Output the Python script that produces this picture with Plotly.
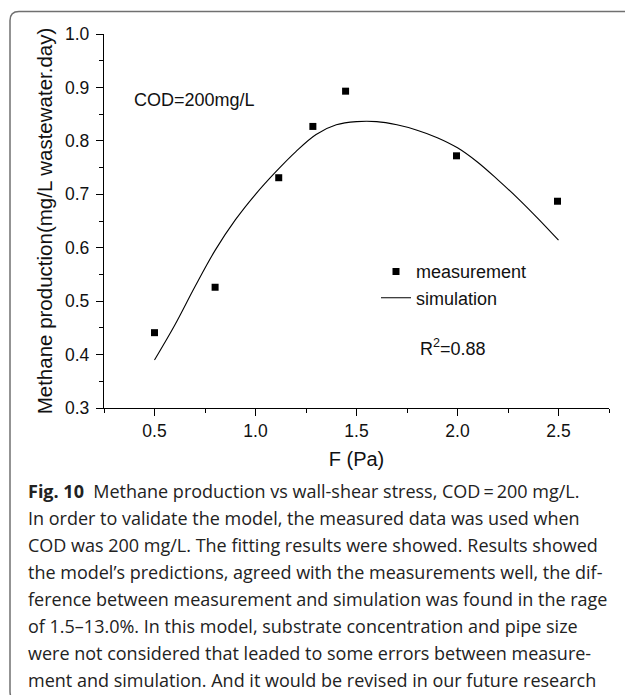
import plotly.graph_objects as go

# ---- data ----
meas_x = [0.5, 0.8, 1.115, 1.284, 1.446, 1.995, 2.495]
meas_y = [0.441, 0.526, 0.731, 0.827, 0.893, 0.772, 0.687]

sim_x = [0.5, 0.6, 0.7, 0.8, 0.9, 1.0, 1.1, 1.2, 1.3, 1.4, 1.5, 1.6, 1.7, 1.8,
         1.9, 2.0, 2.1, 2.2, 2.3, 2.4, 2.5]
sim_y = [0.390, 0.455, 0.527, 0.595, 0.652, 0.700, 0.742, 0.780, 0.812, 0.830,
         0.836, 0.836, 0.830, 0.820, 0.806, 0.787, 0.760, 0.727, 0.692, 0.654,
         0.614]

x_ticks = [0.5, 1.0, 1.5, 2.0, 2.5]
x_ticklabels = ["0.5", "1.0", "1.5", "2.0", "2.5"]
y_ticks = [0.3, 0.4, 0.5, 0.6, 0.7, 0.8, 0.9, 1.0]
y_ticklabels = ["0.3", "0.4", "0.5", "0.6", "0.7", "0.8", "0.9", "1.0"]

caption_lines = [
    "<b>Fig. 10</b>\u00a0\u00a0Methane production vs wall-shear stress, COD\u2009=\u2009200 mg/L.",
    "In order to validate the model, the measured data was used when",
    "COD was 200 mg/L. The fitting results were showed. Results showed",
    "the model\u2019s predictions, agreed with the measurements well, the dif-",
    "ference between measurement and simulation was found in the rage",
    "of 1.5\u201313.0%. In this model, substrate concentration and pipe size",
    "were not considered that leaded to some errors between measure-",
    "ment and simulation. And it would be revised in our future research",
]

# ---- layout geometry (pixels) ----
W, H = 625, 695
L, R, T, B = 104, 609, 33.5, 408


def px(x):
    return (x - L) / (R - L)


def py(y):
    return (B - y) / (B - T)


AX_FONT = "Liberation Sans, Arial, sans-serif"
CAP_FONT = "Open Sans, Noto Sans, sans-serif"

fig = go.Figure()
fig.add_trace(go.Scatter(
    x=meas_x, y=meas_y, mode="markers", name="measurement",
    marker=dict(symbol="square", size=7, color="black"),
))
fig.add_trace(go.Scatter(
    x=sim_x, y=sim_y, mode="lines", name="simulation",
    line=dict(color="black", width=1.1, shape="spline"),
))

axis_common = dict(showgrid=False, zeroline=False, linecolor="black",
                   linewidth=1.3, tickcolor="black", tickwidth=1.2,
                   tickfont=dict(family=AX_FONT, size=17.5, color="#111"))

fig.update_layout(
    width=W, height=H,
    margin=dict(l=L, r=W - R, t=T, b=H - B, autoexpand=False),
    paper_bgcolor="white", plot_bgcolor="white",
    showlegend=True,
    legend=dict(x=px(376), y=py(253), xanchor="left", yanchor="top",
                bgcolor="rgba(0,0,0,0)", font=dict(family=AX_FONT, size=18, color="#111"),
                itemwidth=30, tracegroupgap=0),
    xaxis=dict(range=[0.25, 2.75], tickvals=x_ticks, ticktext=x_ticklabels,
               ticks="outside", ticklen=7, automargin=False,
               minor=dict(dtick=0.25, tick0=0.25, ticks="outside", ticklen=4,
                          tickcolor="black", tickwidth=1.2, showgrid=False),
               title=dict(text="F (Pa)", font=dict(family=AX_FONT, size=20, color="#111"),
                          standoff=11),
               **axis_common),
    yaxis=dict(range=[0.3, 1.0], tickvals=y_ticks, ticktext=y_ticklabels,
               ticks="outside", ticklen=7, automargin=False, ticklabelstandoff=3,
               minor=dict(dtick=0.05, tick0=0.3, ticks="outside", ticklen=4,
                          tickcolor="black", tickwidth=1.2, showgrid=False),
               title=dict(text="Methane production(mg/L wastewater.day)",
                          font=dict(family=AX_FONT, size=20.5, color="#111"), standoff=6),
               **axis_common),
    xaxis2=dict(range=[0.25, 2.75], overlaying="x", side="top", anchor="y",
                tickvals=x_ticks, showticklabels=False, ticks="inside", ticklen=7,
                showgrid=False, zeroline=False, showline=True, linecolor="black",
                linewidth=1.3, tickcolor="black", tickwidth=1.2,
                minor=dict(dtick=0.25, tick0=0.25, ticks="inside", ticklen=6,
                           tickcolor="black", tickwidth=1.2, showgrid=False)),
    yaxis2=dict(range=[0.3, 1.0], overlaying="y", side="right", anchor="x",
                tickvals=y_ticks, showticklabels=False, ticks="inside", ticklen=5,
                showgrid=False, zeroline=False, showline=True, linecolor="black",
                linewidth=1.3, tickcolor="black", tickwidth=1.2,
                minor=dict(dtick=0.05, tick0=0.3, ticks="inside", ticklen=4,
                           tickcolor="black", tickwidth=1.2, showgrid=False)),
)

annotations = [
    dict(text="COD=200mg/L", x=px(132), y=py(100), xref="paper", yref="paper",
         xanchor="left", yanchor="middle", showarrow=False,
         font=dict(family=AX_FONT, size=18, color="#111")),
    dict(text="R<sup>2</sup>=0.88", x=px(418), y=py(347), xref="paper", yref="paper",
         xanchor="left", yanchor="middle", showarrow=False,
         font=dict(family=AX_FONT, size=18, color="#111")),
]
line_y0, line_dy = 491.5, 27
for i, txt in enumerate(caption_lines):
    annotations.append(dict(
        text=txt, x=px(26), y=py(line_y0 + i * line_dy), xref="paper", yref="paper",
        xanchor="left", yanchor="middle", showarrow=False, align="left",
        font=dict(family=CAP_FONT, size=18, color="#222")))
fig.update_layout(annotations=annotations)

# rounded frame around figure + caption
lft, top, rgt, bot, rad = 10, 11, 650, 701, 9
path = (f"M {px(rgt)},{py(top)} L {px(lft + rad)},{py(top)} "
        f"Q {px(lft)},{py(top)} {px(lft)},{py(top + rad)} "
        f"L {px(lft)},{py(bot - rad)} "
        f"Q {px(lft)},{py(bot)} {px(lft + rad)},{py(bot)} L {px(rgt)},{py(bot)}")
fig.add_shape(type="path", path=path, xref="paper", yref="paper",
              line=dict(color="#707070", width=1.5))

fig.write_html("out.html")
